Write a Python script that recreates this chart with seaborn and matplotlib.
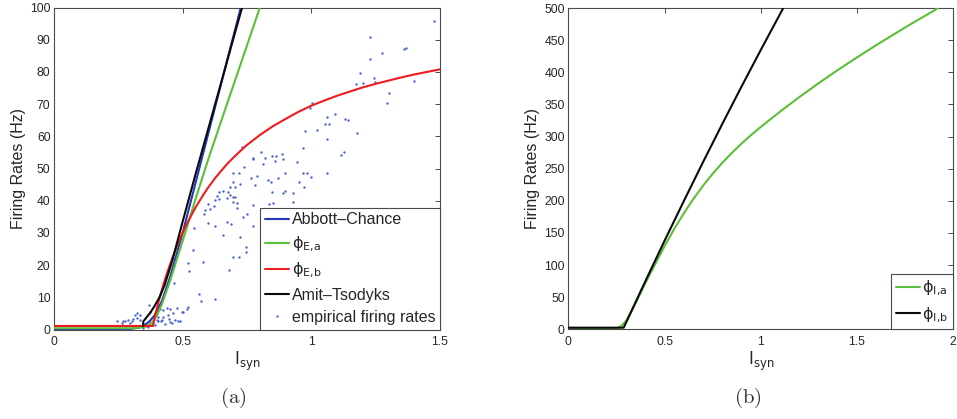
import matplotlib
matplotlib.use("Agg")
import matplotlib.pyplot as plt
from matplotlib.lines import Line2D
import seaborn as sns

sns.set_theme(style="white")
plt.rcParams["font.family"] = ["Liberation Sans", "DejaVu Sans"]
plt.rcParams["mathtext.fontset"] = "dejavusans"

# ---------------- panel (a): excitatory transfer functions ----------------
abbott_I = [0.00, 0.30, 0.33, 0.35, 0.37, 0.39, 0.40, 0.42, 0.45, 0.50, 0.55, 0.60, 0.65, 0.70, 0.726]
abbott_r = [0.0, 0.2, 0.6, 1.3, 2.4, 4.3, 5.7, 9.0, 16.0, 30.0, 45.5, 61.0, 76.5, 92.0, 100.0]

phiEa_I = [0.00, 0.30, 0.34, 0.36, 0.38, 0.40, 0.42, 0.45, 0.50, 0.55, 0.60, 0.65, 0.70, 0.75, 0.80]
phiEa_r = [0.4, 0.4, 0.6, 1.0, 2.0, 4.3, 8.0, 14.8, 27.5, 40.5, 53.0, 64.8, 76.5, 88.2, 100.0]

phiEb_I = [0.00, 0.385, 0.392, 0.40, 0.41, 0.42, 0.43, 0.44, 0.46, 0.48, 0.50, 0.52, 0.55,
           0.58, 0.60, 0.625, 0.65, 0.675, 0.70, 0.725, 0.75, 0.80, 0.85, 0.90, 0.95,
           1.00, 1.05, 1.10, 1.15, 1.20, 1.25, 1.30, 1.35, 1.40, 1.45, 1.50]
phiEb_r = [1.1, 1.1, 4.0, 6.7, 9.7, 12.5, 15.2, 17.7, 22.2, 26.4, 30.1, 33.4, 37.9,
           41.8, 44.2, 46.9, 49.3, 51.6, 53.6, 55.5, 57.3, 60.4, 63.1, 65.4, 67.6,
           69.5, 71.1, 72.6, 73.9, 75.2, 76.3, 77.3, 78.3, 79.2, 80.0, 80.8]

amit_I = [0.346, 0.347, 0.36, 0.375, 0.39, 0.41, 0.43, 0.46, 0.50, 0.55, 0.60, 0.65, 0.70, 0.731]
amit_r = [1.0, 2.5, 3.8, 5.3, 7.2, 10.0, 13.8, 21.5, 33.5, 48.2, 62.5, 76.8, 91.2, 100.0]

emp_I = [1.478, 1.228, 1.229, 1.275, 1.360, 1.367, 1.189, 1.244, 1.249, 1.175, 1.200, 1.397,
         1.303, 1.295, 1.003, 0.995, 1.092, 1.062, 1.070, 1.052, 1.131, 1.144, 1.176, 0.975,
         1.022, 1.062, 0.968, 0.946, 1.128, 1.117, 1.062, 0.966, 0.982, 0.998, 0.953, 0.971,
         0.930,
         0.729, 0.806, 0.772, 0.775, 0.820, 0.846, 0.861, 0.857, 0.885, 0.891, 0.811, 0.738,
         0.694, 0.720, 0.764, 0.790, 0.830, 0.842, 0.870, 0.898, 0.781, 0.723, 0.696, 0.705,
         0.684, 0.677, 0.655, 0.846, 0.899, 0.891,
         0.643, 0.632, 0.684, 0.694, 0.626, 0.641, 0.671, 0.702, 0.697, 0.713, 0.600, 0.620,
         0.587, 0.608, 0.710, 0.775, 0.583, 0.749, 0.733, 0.671, 0.687, 0.600, 0.626, 0.775,
         0.544, 0.658, 0.723, 0.834, 0.852, 0.930,
         0.746, 0.746, 0.694, 0.720, 0.522, 0.578, 0.525, 0.681, 0.466, 0.563, 0.570, 0.626,
         0.522, 0.516, 0.497, 0.541,
         0.163, 0.244, 0.263, 0.270, 0.276, 0.289, 0.295, 0.302, 0.308, 0.315, 0.321, 0.321,
         0.328, 0.334, 0.334, 0.347, 0.354, 0.360, 0.367, 0.370, 0.373, 0.369, 0.379, 0.392,
         0.399, 0.405, 0.405, 0.412, 0.416, 0.418, 0.425, 0.425, 0.431, 0.438, 0.444, 0.448,
         0.451, 0.451, 0.457, 0.461, 0.479, 0.470, 0.483, 0.490, 0.500]
emp_rate = [95.8, 90.9, 83.9, 86.0, 87.1, 87.4, 79.8, 78.2, 76.9, 76.2, 76.5, 77.2,
            73.5, 70.4, 70.2, 68.7, 66.9, 66.1, 63.8, 63.8, 65.4, 65.1, 61.1, 61.7,
            62.0, 59.1, 56.3, 51.9, 55.2, 54.2, 48.5, 48.7, 48.5, 47.5, 45.7, 44.4,
            42.5,
            56.8, 55.2, 53.4, 53.0, 53.2, 53.9, 54.0, 52.3, 54.6, 52.8, 51.5, 50.6,
            48.5, 48.5, 47.2, 47.6, 46.3, 45.8, 47.2, 48.6, 44.9, 45.3, 45.8, 44.2,
            44.3, 42.8, 43.0, 42.8, 42.9, 42.3,
            42.6, 41.5, 41.8, 41.3, 40.2, 40.5, 40.7, 41.0, 39.7, 39.4, 39.0, 38.4,
            37.2, 37.5, 37.7, 38.7, 35.8, 35.8, 34.8, 33.5, 32.8, 33.0, 32.1, 32.1,
            31.4, 29.3, 28.8, 39.0, 39.4, 39.7,
            25.5, 24.0, 22.6, 22.6, 20.5, 20.9, 18.1, 18.5, 14.5, 11.0, 9.0, 9.4,
            6.9, 6.3, 5.3, 24.7,
            0.2, 2.6, 2.0, 2.7, 2.5, 3.1, 2.0, 2.7, 3.4, 4.6, 5.1, 3.6,
            0.7, 3.1, 4.6, 0.5, 1.7, 1.0, 0.7, 2.5, 5.3, 7.6, 2.0, 1.5,
            3.1, 3.8, 2.6, 6.5, 2.5, 3.0, 6.1, 3.8, 1.7, 6.8, 4.5, 3.2,
            6.4, 2.4, 2.0, 5.0, 6.7, 3.1, 2.5, 2.7, 5.4]

# ---------------- panel (b): inhibitory transfer functions ----------------
phiIa_I = [0.00, 0.22, 0.25, 0.275, 0.30, 0.33, 0.36, 0.40, 0.45, 0.50, 0.55, 0.60,
           0.65, 0.70, 0.75, 0.80, 0.85, 0.90, 0.95, 1.00, 1.10, 1.20, 1.30, 1.40,
           1.50, 1.60, 1.70, 1.80, 1.90, 1.92]
phiIa_r = [0.5, 0.5, 1.5, 5.0, 13.0, 29.0, 47.0, 71.5, 100.5, 129.3, 155.9, 180.4,
           202.9, 223.4, 242.0, 259.0, 274.6, 289.0, 302.4, 314.9, 338.7, 361.3, 382.9, 403.5,
           423.1, 442.2, 460.6, 478.6, 496.0, 500.0]

phiIb_I = [0.00, 0.288, 0.40, 0.50, 0.60, 0.70, 0.80, 0.90, 1.00, 1.117]
phiIb_r = [2.5, 2.5, 74.6, 137.6, 199.4, 260.1, 319.5, 377.7, 434.7, 500.0]

BLUE = "#2438b8"
GREEN = "#5cbf3a"
RED = "#ee1c1c"
BLACK = "#0a0a0a"
DOT = "#4a66cc"
AXC = "#4a4a4a"
TXT = "#262626"
LW = 1.5

fig = plt.figure(figsize=(9.57, 4.19), dpi=100)
axL = fig.add_axes([0.0564, 0.2136, 0.4034, 0.7685])
axR = fig.add_axes([0.5938, 0.2141, 0.4023, 0.7668])

sns.scatterplot(x=emp_I, y=emp_rate, ax=axL, color=DOT, s=3, linewidth=0,
                marker="o", zorder=1, legend=False)
for xs, ys, col, z in [(abbott_I, abbott_r, BLUE, 3), (phiEa_I, phiEa_r, GREEN, 3),
                       (phiEb_I, phiEb_r, RED, 3), (amit_I, amit_r, BLACK, 4)]:
    sns.lineplot(x=xs, y=ys, ax=axL, color=col, lw=LW, sort=False,
                 estimator=None, zorder=z)

sns.lineplot(x=phiIa_I, y=phiIa_r, ax=axR, color=GREEN, lw=LW, sort=False,
             estimator=None, zorder=3)
sns.lineplot(x=phiIb_I, y=phiIb_r, ax=axR, color=BLACK, lw=LW, sort=False,
             estimator=None, zorder=4)


def style_axes(ax, xlim, ylim, xticks, xticklabels, yticks):
    ax.set_xlim(*xlim)
    ax.set_ylim(*ylim)
    ax.set_xticks(xticks)
    ax.set_xticklabels(xticklabels)
    ax.set_yticks(yticks)
    ax.set_yticklabels([str(v) for v in yticks])
    ax.tick_params(direction="in", top=True, right=True, length=3.5, width=0.7,
                   color=AXC, labelcolor=TXT, labelsize=8.8)
    ax.tick_params(axis="x", pad=5)
    ax.tick_params(axis="y", pad=2.5)
    for sp in ax.spines.values():
        sp.set_visible(True)
        sp.set_color(AXC)
        sp.set_linewidth(0.8)
    ax.set_facecolor("white")
    ax.grid(False)
    ax.set_xlabel(r"$\mathrm{I}_{\mathrm{syn}}$", fontsize=12, color=TXT, labelpad=1)
    ax.set_ylabel("Firing Rates (Hz)", fontsize=11.5, color=TXT, labelpad=3)


style_axes(axL, (0, 1.5), (0, 100), [0, 0.5, 1, 1.5], ["0", "0.5", "1", "1.5"],
           list(range(0, 101, 10)))
style_axes(axR, (0, 2), (0, 500), [0, 0.5, 1, 1.5, 2], ["0", "0.5", "1", "1.5", "2"],
           list(range(0, 501, 50)))

legend_kw = dict(loc="lower right", borderaxespad=0, fontsize=11.5, frameon=True,
                 fancybox=False, framealpha=1, edgecolor=AXC, handlelength=1.5,
                 handletextpad=0.15, labelspacing=0.45, borderpad=0.3)

handles_L = [
    Line2D([], [], color=BLUE, lw=LW),
    Line2D([], [], color=GREEN, lw=LW),
    Line2D([], [], color=RED, lw=LW),
    Line2D([], [], color=BLACK, lw=LW),
    Line2D([], [], color=DOT, lw=0, marker="o", markersize=1.7, markeredgewidth=0),
]
labels_L = ["Abbott\u2013Chance", r"$\mathrm{\phi}_{\mathrm{E{,}a}}$",
            r"$\mathrm{\phi}_{\mathrm{E{,}b}}$", "Amit\u2013Tsodyks", "empirical firing rates"]
legL = axL.legend(handles_L, labels_L, **legend_kw)
legL.get_frame().set_linewidth(0.8)
for t in legL.get_texts():
    t.set_color(TXT)

handles_R = [Line2D([], [], color=GREEN, lw=LW), Line2D([], [], color=BLACK, lw=LW)]
labels_R = [r"$\mathrm{\phi}_{\mathrm{I{,}a}}$", r"$\mathrm{\phi}_{\mathrm{I{,}b}}$"]
legR = axR.legend(handles_R, labels_R, **legend_kw)
legR.get_frame().set_linewidth(0.8)
for t in legR.get_texts():
    t.set_color(TXT)

fig.text(233 / 957, 1 - 398 / 419, r"$\mathrm{(a)}$", math_fontfamily="cm",
         fontsize=15, ha="center", va="center", color="#333333")
fig.text(748 / 957, 1 - 398 / 419, r"$\mathrm{(b)}$", math_fontfamily="cm",
         fontsize=15, ha="center", va="center", color="#333333")

fig.savefig("out.png", dpi=100, facecolor="white")
